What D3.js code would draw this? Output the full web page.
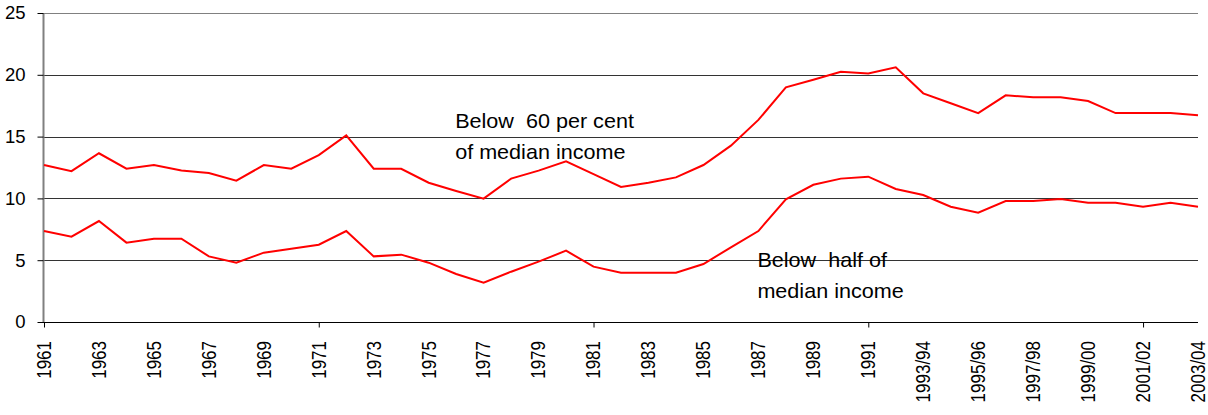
<!DOCTYPE html>
<html><head><meta charset="utf-8">
<script src="https://cdn.jsdelivr.net/npm/d3@7"></script>
<style>
html,body{margin:0;padding:0;background:#fff;}
svg{display:block;font-family:"Liberation Sans",Arial,sans-serif;}
</style></head>
<body>
<svg id="chart" width="1208" height="415"></svg>
<script>
const categories = ["1961","1962","1963","1964","1965","1966","1967","1968","1969","1970",
 "1971","1972","1973","1974","1975","1976","1977","1978","1979","1980",
 "1981","1982","1983","1984","1985","1986","1987","1988","1989","1990",
 "1991","1992","1993/94","1994/95","1995/96","1996/97","1997/98","1998/99","1999/00","2000/01",
 "2001/02","2002/03","2003/04"];
const below60 = [12.7,12.2,13.65,12.4,12.7,12.25,12.05,11.43,12.7,12.4,
 13.5,15.1,12.4,12.4,11.27,10.6,9.98,11.6,12.25,13.0,
 11.97,10.92,11.27,11.7,12.7,14.27,16.35,18.98,19.6,20.25,
 20.1,20.6,18.5,17.7,16.9,18.34,18.18,18.18,17.88,16.9,
 16.9,16.9,16.72];
const belowHalf = [7.36,6.9,8.17,6.42,6.74,6.74,5.31,4.8,5.61,5.93,
 6.25,7.36,5.31,5.45,4.8,3.88,3.18,4.07,4.88,5.77,
 4.48,3.99,3.99,3.99,4.69,6.04,7.36,9.93,11.1,11.6,
 11.76,10.76,10.27,9.33,8.85,9.79,9.79,9.95,9.65,9.65,
 9.33,9.65,9.33];
const yTicks = [0,5,10,15,20,25];
const xLabelCats = categories.filter((c,i)=>i%2===0);
const xTickCats = categories.filter((c,i)=>i%10===0);
const annotations = [
 {lines:["Below  60 per cent","of median income"], cat:"1976", v:15.7},
 {lines:["Below  half of","median income"], cat:"1987", v:4.45}
];

const svg = d3.select("#chart");
const x = d3.scalePoint().domain(categories).range([44,1198]);
const y = d3.scaleLinear().domain([0,25]).range([322,13]);

// gridlines
svg.append("g").selectAll("line").data(yTicks.filter(t=>t>0)).join("line")
 .attr("x1",44).attr("x2",1198)
 .attr("y1",d=>Math.round(y(d))+0.5).attr("y2",d=>Math.round(y(d))+0.5)
 .attr("stroke",d=>d===25?"#808080":"#333").attr("stroke-width",1);

// y axis
const yAxis = d3.axisLeft(y).tickValues(yTicks).tickSize(6).tickPadding(12);
const gy = svg.append("g").attr("transform","translate(43.5,0)").call(yAxis);
gy.select(".domain").attr("stroke","#808080").attr("stroke-width",2).attr("d","M0,"+y(25)+"V"+(y(0)));
gy.selectAll(".tick line").attr("stroke","#000");
gy.selectAll(".tick text").attr("font-size",18.5).attr("font-family","Liberation Sans, Arial, sans-serif").attr("fill","#000");

// x axis
const xAxis = d3.axisBottom(x).tickValues(xTickCats).tickSize(5).tickFormat("");
const gx = svg.append("g").attr("transform","translate(0,"+(Math.round(y(0))+0.5)+")").call(xAxis);
gx.select(".domain").attr("stroke","#000").attr("d","M43,0H1198");
gx.selectAll(".tick line").attr("stroke","#000");

// x labels
svg.append("g").selectAll("text").data(xLabelCats).join("text")
 .attr("transform",d=>"translate("+x(d)+",341) scale(1.15,1) rotate(-90)")
 .attr("text-anchor","end").attr("dy","0.35em")
 .attr("font-size",17).attr("fill","#000").text(d=>d);

// lines
const line = d3.line().x((d,i)=>x(categories[i])).y(d=>y(d));
[below60, belowHalf].forEach(s=>{
 svg.append("path").datum(s).attr("d",line)
  .attr("fill","none").attr("stroke","#ff0000").attr("stroke-width",2).attr("stroke-linejoin","miter");
});

// annotations
annotations.forEach(a=>{
 const t = svg.append("text")
  .attr("transform","translate("+(x(a.cat)-1)+","+y(a.v)+") scale(1.08,1)")
  .attr("font-size",20).attr("fill","#000").style("white-space","pre");
 a.lines.forEach((l,i)=>t.append("tspan").attr("x",0).attr("dy",i===0?0:31).text(l));
});
</script>
</body></html>
